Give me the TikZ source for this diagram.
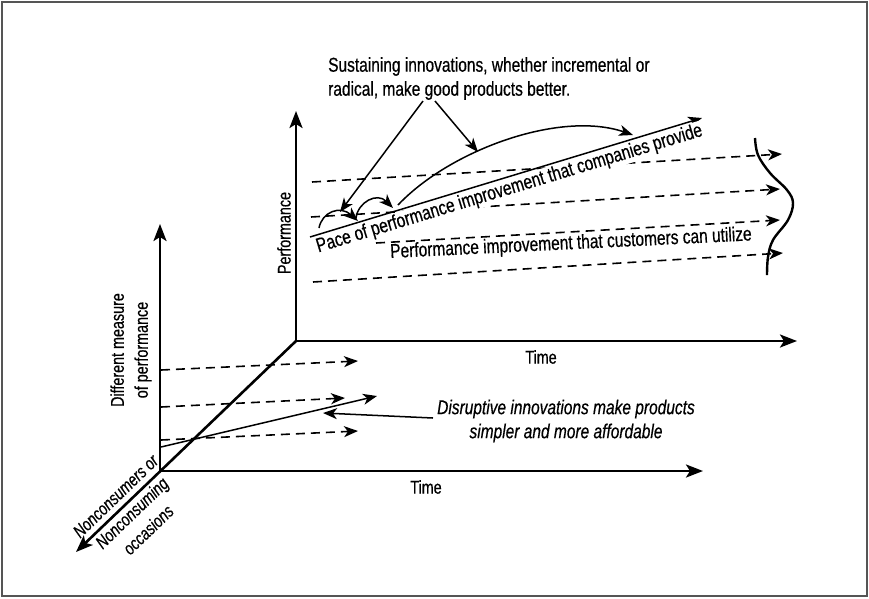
\documentclass[tikz,border=0pt]{standalone}
\usepackage{fontspec}
\setmainfont{Liberation Sans}[FakeStretch=0.775,FakeBold=0.5]
\usetikzlibrary{arrows.meta}
\definecolor{framegray}{RGB}{85,85,85}
\begin{document}
\begin{tikzpicture}[x=1pt,y=-1pt,
  axisboth/.style={line width=2.6pt,{Stealth[length=17pt,width=13pt,inset=4pt]}-{Stealth[length=17pt,width=13pt,inset=4pt]}},
  axisone/.style={line width=2.6pt,-{Stealth[length=17pt,width=13pt,inset=4pt]}},
  dasharrow/.style={line width=1.6pt,dash pattern=on 9pt off 6pt,-{Stealth[length=14pt,width=11pt,inset=4pt]}},
  thinarrow/.style={line width=1.5pt,-{Stealth[length=14pt,width=11pt,inset=4pt]}},
  lbl/.style={inner sep=0pt,font=\fontsize{20}{24}\selectfont},
  slbl/.style={inner sep=0pt,font=\fontsize{18.5}{24}\selectfont},
  ilbl/.style={inner sep=0pt,font=\fontsize{20}{24}\selectfont\itshape}]
\useasboundingbox (0,0) rectangle (869,598);
\draw[framegray,line width=2pt] (2,2) rectangle (867,596);

% axis points
\coordinate (Bo) at (296,341);
\coordinate (Bp) at (296,111);
\coordinate (Bt) at (797,341);
\coordinate (Fo) at (160,471);
\coordinate (Fp) at (160,224);
\coordinate (Ft) at (703,471);
\coordinate (Nc) at (76,552);

% back plane dashed lines
\coordinate (d1s) at (312,182); \coordinate (d1e) at (782,154);
\coordinate (d2s) at (311,217); \coordinate (d2e) at (780,189);
\coordinate (d3s) at (376,243); \coordinate (d3e) at (780,220);
\coordinate (d4s) at (313,282); \coordinate (d4e) at (783,253);
\draw[dasharrow] (d1s) -- (d1e);
\draw[dasharrow] (d2s) -- (d2e);
\draw[dasharrow] (d3s) -- (d3e);
\draw[dasharrow] (d4s) -- (d4e);

% front plane dashed lines
\coordinate (f1s) at (161,370); \coordinate (f1e) at (358,361);
\coordinate (f2s) at (161,407); \coordinate (f2e) at (345,398);
\coordinate (f3s) at (161,440); \coordinate (f3e) at (358,431);
\draw[dasharrow] (f1s) -- (f1e);
\draw[dasharrow] (f2s) -- (f2e);
\draw[dasharrow] (f3s) -- (f3e);

% axes
\draw[axisboth] (Bp) -- (Bo) -- (Bt);
\draw[axisboth] (Fp) -- (Fo) -- (Ft);
\draw[axisone] (Bo) -- (Nc);

% pace line
\coordinate (ps) at (310,237);
\coordinate (pe) at (702,118);
\draw[thinarrow] (ps) -- (pe)
  node[pos=0.5,sloped,below=1pt,fill=white,inner sep=1pt,font=\fontsize{20}{24}\selectfont] (pace)
  {Pace of performance improvement that companies provide};

% front disruptive line
\coordinate (ds) at (161,447);
\coordinate (de) at (377,396);
\draw[thinarrow] (ds) -- (de);

% labels
\node[slbl] (tb) at (541,357) {Time};
\node[slbl] (tf) at (426,487) {Time};
\node[slbl,rotate=90] (perf) at (284,233) {Performance};
\node[slbl,rotate=90,align=center] (dm) at (131,350) {Different measure\\of performance};
\node[inner sep=0pt,font=\fontsize{18}{23.5}\selectfont\itshape,rotate=44,align=center] (nc) at (132,513) {Nonconsumers or\\Nonconsuming\\occasions};
\node[lbl,anchor=north west,align=left] (sus) at (328,57) {Sustaining innovations, whether incremental or\\radical, make good products better.};
\node[ilbl,align=center] (dis) at (566,421) {Disruptive innovations make products\\simpler and more affordable};
\node[lbl,rotate=2.8] (cu) at (571,244) {Performance improvement that customers can utilize};

% disruptive pointer
\coordinate (dp) at (323,413);
\draw[thinarrow] ([shift={(-4,-3)}]dis.west) -- (dp);

% sustaining arcs
\coordinate (a1s) at (319,228); \coordinate (a1e) at (358,221);
\coordinate (a2s) at (356,218); \coordinate (a2e) at (393,208);
\coordinate (a3s) at (398,205); \coordinate (a3e) at (633,135);
\draw[thinarrow] (a1s) .. controls (322,212) and (340,205) .. (a1e);
\draw[thinarrow] (a2s) .. controls (358,202) and (377,192) .. (a2e);
\draw[thinarrow] (a3s) .. controls (450,150) and (560,110) .. (a3e);

% sustaining pointers
\coordinate (s1) at (423,101); \coordinate (s1e) at (340,212);
\coordinate (s2) at (435,101); \coordinate (s2e) at (478,152);
\draw[thinarrow] (s1) -- (s1e);
\draw[thinarrow] (s2) -- (s2e);

% distribution curve
\draw[line width=2.4pt] plot[smooth,tension=0.6] coordinates
  {(755,138) (758,155) (770,173) (787,190) (793,203) (788,220) (773,240) (768,257) (767,275)};
\end{tikzpicture}
\end{document}
